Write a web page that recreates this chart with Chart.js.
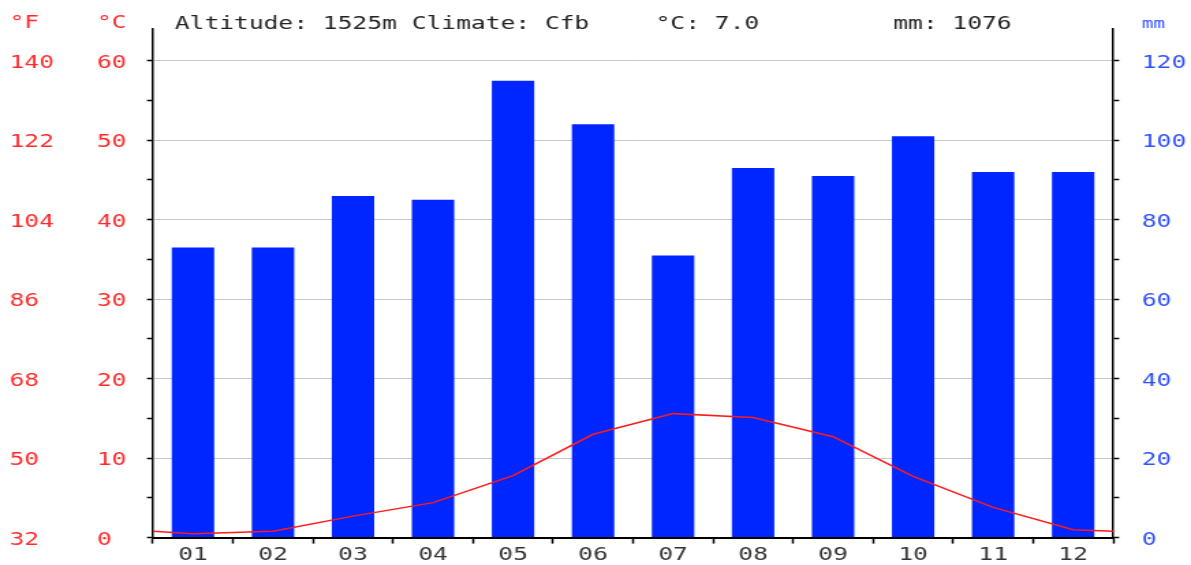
<!DOCTYPE html>
<html>
<head>
<meta charset="utf-8">
<script src="https://cdn.jsdelivr.net/npm/chart.js@4"></script>
<style>
  html, body { margin: 0; padding: 0; background: #fff; overflow: hidden; }
</style>
</head>
<body>
<!-- the original picture is stretched sideways, so the canvas is too -->
<canvas id="c" width="872" height="565" style="width:1191px;height:565px;display:block"></canvas>
<script>
// Climate chart data
var months = ['01', '02', '03', '04', '05', '06', '07', '08', '09', '10', '11', '12'];
var precip = [73, 73, 86, 85, 115, 104, 71, 93, 91, 101, 92, 92];       // mm
var temps  = [0.5, 0.8, 2.7, 4.4, 7.8, 13.0, 15.6, 15.1, 12.7, 7.7, 3.8, 1.0]; // °C
var edgeTemp = 0.8; // value of the line where it meets the plot edges

// Tick labels
var tickF  = [32, 50, 68, 86, 104, 122, 140];
var tickC  = [0, 10, 20, 30, 40, 50, 60];
var minorC = [5, 15, 25, 35, 45, 55];
var tickMM = [0, 20, 40, 60, 80, 100, 120];
var minorMM = [10, 30, 50, 70, 90, 110];

var headerLeft = 'Altitude: 1525m Climate: Cfb';
var headerTemp = '°C: 7.0';
var headerRain = 'mm: 1076';

var RED = '#ff2a2a';
var BLUE = '#3050ff';
var FONT = "'DejaVu Sans Mono', monospace";

function setTicks(list) {
  return function(scale) {
    scale.ticks = list.slice().sort(function(a, b) { return a - b; })
      .map(function(v) { return { value: v }; });
  };
}
function setWidth(w) {
  return function(scale) { scale.width = w; };
}

// line points, month centres plus the two edges
var linePoints = [{ x: 0, y: edgeTemp }];
temps.forEach(function(t, i) { linePoints.push({ x: i + 0.5, y: t }); });
linePoints.push({ x: 12, y: edgeTemp });

var headerPlugin = {
  id: 'header',
  afterDraw: function(chart) {
    var ctx = chart.ctx;
    ctx.save();
    ctx.textBaseline = 'alphabetic';
    ctx.textAlign = 'left';
    ctx.font = '18px ' + FONT;
    ctx.fillStyle = RED;
    ctx.fillText('°F', 7, 28);
    ctx.fillText('°C', 71, 28);
    ctx.fillStyle = '#222';
    ctx.fillText(headerLeft, 128, 29);
    ctx.fillText(headerTemp, 480, 29);
    ctx.fillText(headerRain, 654, 29);
    ctx.font = '14px ' + FONT;
    ctx.fillStyle = BLUE;
    ctx.fillText('mm', 836, 28);
    ctx.restore();
  }
};

new Chart(document.getElementById('c'), {
  type: 'bar',
  data: {
    labels: months,
    datasets: [
      {
        type: 'line',
        data: linePoints,
        xAxisID: 'xL',
        yAxisID: 'yC',
        borderColor: '#ff1a1a',
        borderWidth: 1.5,
        pointRadius: 0,
        tension: 0,
        fill: false,
        order: 0
      },
      {
        type: 'bar',
        data: precip,
        xAxisID: 'x',
        yAxisID: 'yMM',
        backgroundColor: '#0026ff',
        borderWidth: 0,
        grouped: false,
        barPercentage: 0.53,
        categoryPercentage: 1,
        order: 1
      }
    ]
  },
  options: {
    responsive: false,
    animation: false,
    layout: { padding: { top: 29, left: 7, right: 0, bottom: 0 } },
    plugins: { legend: { display: false }, tooltip: { enabled: false } },
    scales: {
      x: {
        position: 'bottom',
        offset: true,
        grid: { offset: true, drawOnChartArea: false, tickLength: 6, tickColor: '#000', tickWidth: 1.5 },
        border: { color: '#000', width: 2 },
        ticks: { color: '#333', padding: 1, font: { family: FONT, size: 18 } },
        afterFit: function(s) { s.height = 27; }
      },
      xL: { type: 'linear', display: false, offset: false, min: 0, max: 12 },
      yC: {
        type: 'linear',
        position: 'left',
        weight: 0,
        min: 0,
        max: 64,
        afterBuildTicks: setTicks(tickC.concat(minorC)),
        afterFit: setWidth(41),
        grid: {
          color: function(ctx) { return ctx.tick && ctx.tick.value % 10 === 0 ? '#c8c8c8' : 'rgba(0,0,0,0)'; },
          lineWidth: 1,
          tickLength: 4.4,
          tickColor: '#000',
          tickWidth: 1.5
        },
        border: { color: '#000', width: 1.5 },
        ticks: {
          color: RED,
          crossAlign: 'far',
          labelOffset: 2.5,
          font: { family: FONT, size: 18 },
          callback: function(v) { return v % 10 === 0 ? String(v) : ''; }
        }
      },
      yF: {
        type: 'linear',
        position: 'left',
        weight: 1,
        min: 32,
        max: 32 + 1.8 * 64,
        afterBuildTicks: setTicks(tickF),
        afterFit: setWidth(64),
        grid: { display: false },
        border: { display: false },
        ticks: { color: RED, crossAlign: 'far', labelOffset: 2.5, font: { family: FONT, size: 18 } }
      },
      yMM: {
        type: 'linear',
        position: 'right',
        min: 0,
        max: 128,
        afterBuildTicks: setTicks(tickMM.concat(minorMM)),
        afterFit: setWidth(57),
        grid: { drawOnChartArea: false, tickLength: 4.4, tickColor: '#000', tickWidth: 1.5 },
        border: { color: '#000', width: 1.5 },
        ticks: {
          color: BLUE,
          padding: 16.6,
          labelOffset: 2.5,
          font: { family: FONT, size: 18 },
          callback: function(v) { return v % 20 === 0 ? String(v) : ''; }
        }
      }
    }
  },
  plugins: [headerPlugin]
});
</script>
</body>
</html>
